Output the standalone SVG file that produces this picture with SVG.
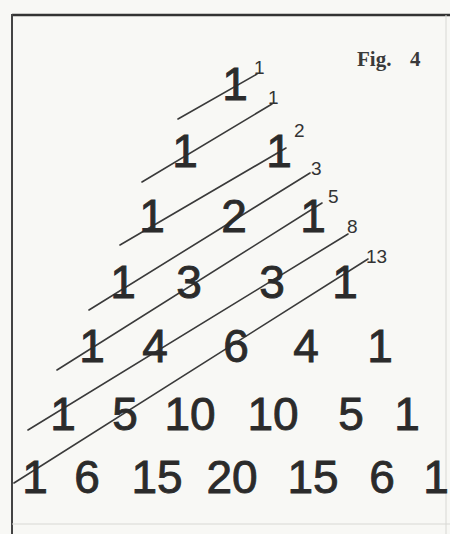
<svg xmlns="http://www.w3.org/2000/svg" width="450" height="534" viewBox="0 0 450 534">
<style>
.n{font-family:"Liberation Sans",Arial,sans-serif;font-size:46px;fill:#2b2b2b;stroke:#2b2b2b;stroke-width:0.9;text-anchor:middle}
.lb{font-family:"Liberation Sans",Arial,sans-serif;font-size:19px;fill:#333}
.ln{stroke:#3a3a3a;stroke-width:1.6;fill:none;stroke-linecap:round}
.fig{font-family:"Liberation Serif","Times New Roman",serif;font-size:21px;font-weight:bold;fill:#3a3a3a}
</style>
<rect x="0" y="0" width="450" height="534" fill="#f8f8f5"/>
<g id="frame">
<line x1="12" y1="15" x2="450" y2="15" stroke="#333" stroke-width="2.5"/>
<line x1="12" y1="14" x2="12" y2="534" stroke="#444" stroke-width="2"/>
<line x1="446" y1="15" x2="446" y2="534" stroke="#d8d8d4" stroke-width="1"/>
<line x1="12" y1="524" x2="450" y2="524" stroke="#d8d8d4" stroke-width="1"/>
</g>
<g id="title"><text class="fig" x="357" y="66">Fig.</text><text class="fig" x="410" y="66">4</text></g>
<g id="connectors">
<line class="ln" x1="178" y1="119" x2="257" y2="74"/>
<line class="ln" x1="142" y1="182" x2="272" y2="104"/>
<line class="ln" x1="120" y1="245" x2="286" y2="148"/>
<line class="ln" x1="89" y1="310" x2="310" y2="173"/>
<line class="ln" x1="57" y1="370" x2="322" y2="203"/>
<line class="ln" x1="28" y1="430" x2="348" y2="234"/>
<line class="ln" x1="14" y1="483" x2="368" y2="259"/>
<text class="lb" x="254" y="74">1</text>
<text class="lb" x="268" y="104">1</text>
<text class="lb" x="294" y="137">2</text>
<text class="lb" x="311" y="175">3</text>
<text class="lb" x="328" y="203">5</text>
<text class="lb" x="347" y="233">8</text>
<text class="lb" x="366" y="263">13</text>
</g>
<g id="row1"><text class="n" x="235" y="100">1</text></g>
<g id="row2"><text class="n" x="185" y="167">1</text><text class="n" x="279" y="167">1</text></g>
<g id="row3"><text class="n" x="152" y="232">1</text><text class="n" x="234" y="232">2</text><text class="n" x="313" y="232">1</text></g>
<g id="row4"><text class="n" x="123" y="298">1</text><text class="n" x="189" y="298">3</text><text class="n" x="272" y="298">3</text><text class="n" x="345" y="298">1</text></g>
<g id="row5"><text class="n" x="92" y="362">1</text><text class="n" x="155" y="362">4</text><text class="n" x="236" y="362">6</text><text class="n" x="306" y="362">4</text><text class="n" x="380" y="362">1</text></g>
<g id="row6"><text class="n" x="63" y="430">1</text><text class="n" x="125" y="430">5</text><text class="n" x="190" y="430">10</text><text class="n" x="273" y="430">10</text><text class="n" x="351" y="430">5</text><text class="n" x="407" y="430">1</text></g>
<g id="row7"><text class="n" x="35" y="493">1</text><text class="n" x="87" y="493">6</text><text class="n" x="157" y="493">15</text><text class="n" x="232" y="493">20</text><text class="n" x="313" y="493">15</text><text class="n" x="382" y="493">6</text><text class="n" x="436" y="493">1</text></g>
</svg>
